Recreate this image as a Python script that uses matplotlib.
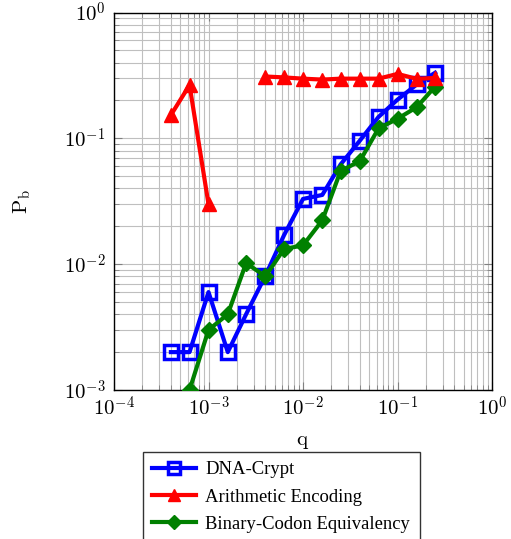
import matplotlib
matplotlib.use("Agg")
import matplotlib.pyplot as plt
from matplotlib.ticker import LogLocator, NullFormatter, FuncFormatter
import numpy as np

plt.rcParams['font.family'] = ['Liberation Serif', 'DejaVu Serif']
plt.rcParams['mathtext.fontset'] = 'cm'

q_dna = [4e-4, 6.3e-4, 1e-3, 1.6e-3, 2.5e-3, 4e-3, 6.3e-3, 1e-2, 1.6e-2, 2.5e-2, 4e-2, 6.3e-2, 0.1, 0.16, 0.25]
p_dna = [2e-3, 2e-3, 6e-3, 2e-3, 4e-3, 8.1e-3, 1.7e-2, 3.3e-2, 3.55e-2, 6.2e-2, 9.6e-2, 0.148, 0.203, 0.268, 0.332]

q_ar1 = [4e-4, 6.3e-4, 1e-3]
p_ar1 = [0.153, 0.265, 0.030]
q_ar2 = [4e-3, 6.3e-3, 1e-2, 1.6e-2, 2.5e-2, 4e-2, 6.3e-2, 0.1, 0.16, 0.25]
p_ar2 = [0.31, 0.305, 0.298, 0.293, 0.298, 0.298, 0.298, 0.325, 0.297, 0.302]

q_bc = [6.3e-4, 1e-3, 1.6e-3, 2.5e-3, 4e-3, 6.3e-3, 1e-2, 1.6e-2, 2.5e-2, 4e-2, 6.3e-2, 0.1, 0.16, 0.25]
p_bc = [1e-3, 3e-3, 4e-3, 1.02e-2, 8e-3, 1.32e-2, 1.41e-2, 2.23e-2, 5.5e-2, 6.6e-2, 0.12, 0.143, 0.177, 0.258]

fig = plt.figure(figsize=(5.11, 5.39), dpi=100)
ax = fig.add_axes([114/511, 1-390/539, (492-114)/511, (390-12.5)/539])

ax.plot(q_dna, p_dna, color='#0000ff', lw=3, marker='s', ms=10, mfc='none', mec='#0000ff', mew=2.5, label='DNA-Crypt', zorder=3)
ax.plot(q_ar1, p_ar1, color='#ff0000', lw=3, marker='^', ms=10, mfc='#ff0000', mec='#ff0000', label='Arithmetic Encoding', zorder=4)
ax.plot(q_ar2, p_ar2, color='#ff0000', lw=3, marker='^', ms=10, mfc='#ff0000', mec='#ff0000', zorder=4)
ax.plot(q_bc, p_bc, color='#008000', lw=3, marker='D', ms=8, mfc='#008000', mec='#008000', label='Binary-Codon Equivalency', zorder=3)

ax.set_xscale('log')
ax.set_yscale('log')
ax.set_xlim(1e-4, 1)
ax.set_ylim(1e-3, 1)
ax.xaxis.set_major_locator(LogLocator(base=10, numticks=10))
ax.yaxis.set_major_locator(LogLocator(base=10, numticks=10))
ax.xaxis.set_minor_locator(LogLocator(base=10, subs=range(2, 10), numticks=20))
ax.yaxis.set_minor_locator(LogLocator(base=10, subs=range(2, 10), numticks=20))
fmt = FuncFormatter(lambda v, p: r'$10^{%d}$' % int(round(np.log10(v))))
ax.xaxis.set_major_formatter(fmt)
ax.yaxis.set_major_formatter(fmt)
ax.xaxis.set_minor_formatter(NullFormatter())
ax.yaxis.set_minor_formatter(NullFormatter())
ax.grid(True, which='both', color='#bfbfbf', lw=0.8)
ax.set_axisbelow(True)
ax.tick_params(which='both', direction='in', top=True, right=True, labelsize=15, color='#808080')
ax.tick_params(which='major', length=6)
ax.tick_params(which='minor', length=3.5)
ax.tick_params(axis='x', pad=5)
ax.tick_params(axis='y', pad=6)
for s in ax.spines.values():
    s.set_linewidth(1.0)

ax.set_xlabel(r'$\mathrm{q}$', fontsize=15, labelpad=8)
ax.set_ylabel(r'$\mathrm{P_b}$', fontsize=15, labelpad=22)

leg = fig.legend(loc='upper left', bbox_to_anchor=(143/511, 1-452/539), fontsize=13.4,
                 frameon=True, fancybox=False, edgecolor='black', handlelength=2.35,
                 handletextpad=0.5, borderpad=0.5, labelspacing=0.55, markerscale=0.85,
                 borderaxespad=0)
leg.get_frame().set_linewidth(1.0)

fig.savefig('out.png', dpi=100)
